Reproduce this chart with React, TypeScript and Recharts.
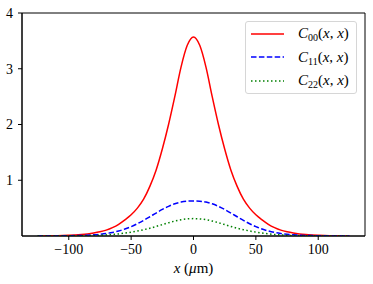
import { LineChart, Line, XAxis, YAxis, ReferenceArea, Legend, Label } from "recharts";

const xs = [
  -125, -120, -115, -110, -105, -100, -95, -90, -85, -80, -75, -70, -65, -60, -55, -50, -45, -40, -35, -30, -25,
  -20, -15, -10, -5, 0, 5, 10, 15, 20, 25, 30, 35, 40, 45, 50, 55, 60, 65, 70, 75, 80, 85, 90, 95, 100, 105, 110,
  115, 120, 125,
];

const c00 = [
  0.001, 0.002, 0.003, 0.005, 0.008, 0.012, 0.018, 0.026, 0.037, 0.053, 0.075, 0.105, 0.15, 0.21, 0.29, 0.38, 0.5,
  0.66, 0.89, 1.18, 1.56, 2.0, 2.5, 3.03, 3.42, 3.57, 3.42, 3.03, 2.5, 2.0, 1.56, 1.18, 0.89, 0.66, 0.5, 0.38, 0.29,
  0.21, 0.15, 0.105, 0.075, 0.053, 0.037, 0.026, 0.018, 0.012, 0.008, 0.005, 0.003, 0.002, 0.001,
];

const c11 = [
  0.0007, 0.001, 0.0015, 0.002, 0.003, 0.005, 0.007, 0.01, 0.014, 0.021, 0.031, 0.045, 0.064, 0.09, 0.125, 0.168,
  0.22, 0.28, 0.345, 0.412, 0.476, 0.532, 0.577, 0.608, 0.625, 0.63, 0.625, 0.608, 0.577, 0.532, 0.476, 0.412, 0.345,
  0.28, 0.22, 0.168, 0.125, 0.09, 0.064, 0.045, 0.031, 0.021, 0.014, 0.01, 0.007, 0.005, 0.003, 0.002, 0.0015, 0.001,
  0.0007,
];

const c22 = [
  0.0003, 0.0005, 0.0007, 0.001, 0.0015, 0.002, 0.003, 0.0045, 0.0065, 0.009, 0.013, 0.02, 0.028, 0.038, 0.052, 0.069,
  0.09, 0.113, 0.139, 0.171, 0.205, 0.238, 0.268, 0.292, 0.307, 0.312, 0.307, 0.292, 0.268, 0.238, 0.205, 0.171, 0.139,
  0.113, 0.09, 0.069, 0.052, 0.038, 0.028, 0.02, 0.013, 0.009, 0.0065, 0.0045, 0.003, 0.002, 0.0015, 0.001, 0.0007,
  0.0005, 0.0003,
];

const xTicks = [-100, -50, 0, 50, 100];
const yTicks = [1, 2, 3, 4];

const data = xs.map((x, i) => ({ x, c00: c00[i], c11: c11[i], c22: c22[i] }));

const FONT = "Liberation Serif";

const series = [
  { key: "c00", sub: "00", color: "#ff0000", dash: undefined },
  { key: "c11", sub: "11", color: "#0000ff", dash: "5.5 2.4" },
  { key: "c22", sub: "22", color: "#008000", dash: "1.5 2.5" },
];

const fmt = (v: number) => (v < 0 ? `\u2212${-v}` : `${v}`);

const LegendBox = () => (
  <div
    style={{
      width: 112,
      height: 73,
      border: "1px solid #d6d6d6",
      borderRadius: 3,
      background: "rgba(255,255,255,0.8)",
      fontFamily: FONT,
      fontSize: 15,
      color: "#000",
      boxSizing: "border-box",
    }}
  >
    {series.map((s) => (
      <div key={s.key} style={{ display: "flex", alignItems: "center", height: 23.5 }}>
        <svg width={40} height={10} style={{ marginLeft: 4, flex: "none" }}>
          <line x1={1} y1={5} x2={34} y2={5} stroke={s.color} strokeWidth={1.5} strokeDasharray={s.dash} />
        </svg>
        <span style={{ marginLeft: 8, whiteSpace: "nowrap" }}>
          <i>C</i>
          <span style={{ fontSize: 10, position: "relative", top: 3 }}>{s.sub}</span>(<i>x</i>, <i>x</i>)
        </span>
      </div>
    ))}
  </div>
);

const AxisTitle = (props: any) => {
  const vb = props.viewBox || {};
  const cx = vb.x + vb.width / 2;
  return (
    <text x={cx} y={vb.y + 37} textAnchor="middle" fontFamily={FONT} fontSize={15} fill="#000">
      <tspan fontStyle="italic">x</tspan>
      <tspan> (</tspan>
      <tspan fontStyle="italic">μ</tspan>
      <tspan>m)</tspan>
    </text>
  );
};

export default function App() {
  return (
    <div style={{ position: "absolute", left: 0, top: 0, background: "#fff" }}>
      <LineChart width={373} height={284} data={data} margin={{ top: 13, right: 8, bottom: 0, left: 0 }}>
        <ReferenceArea
          x1={-137.5}
          x2={137.5}
          y1={0}
          y2={4}
          fill="none"
          stroke="#000"
          strokeWidth={1}
          ifOverflow="extendDomain"
        />
        <XAxis
          dataKey="x"
          type="number"
          domain={[-137.5, 137.5]}
          ticks={xTicks}
          tickFormatter={fmt}
          height={48}
          tickSize={4}
          tickMargin={4}
          axisLine={{ stroke: "#000" }}
          tickLine={{ stroke: "#000" }}
          tick={{ fontSize: 14, fill: "#000", fontFamily: FONT }}
          allowDataOverflow
        >
          <Label content={AxisTitle} />
        </XAxis>
        <YAxis
          type="number"
          domain={[0, 4]}
          ticks={yTicks}
          width={22}
          tickSize={4}
          tickMargin={5}
          axisLine={{ stroke: "#000" }}
          tickLine={{ stroke: "#000" }}
          tick={{ fontSize: 14, fill: "#000", fontFamily: FONT }}
          allowDataOverflow
        />
        {series.map((s) => (
          <Line
            key={s.key}
            dataKey={s.key}
            type="monotone"
            stroke={s.color}
            strokeWidth={1.5}
            strokeDasharray={s.dash}
            dot={false}
            activeDot={false}
            isAnimationActive={false}
          />
        ))}
        <Legend
          layout="vertical"
          align="center"
          verticalAlign="middle"
          content={LegendBox}
          wrapperStyle={{ top: 21, left: 245, width: 112, height: 73 }}
        />
      </LineChart>
    </div>
  );
}
